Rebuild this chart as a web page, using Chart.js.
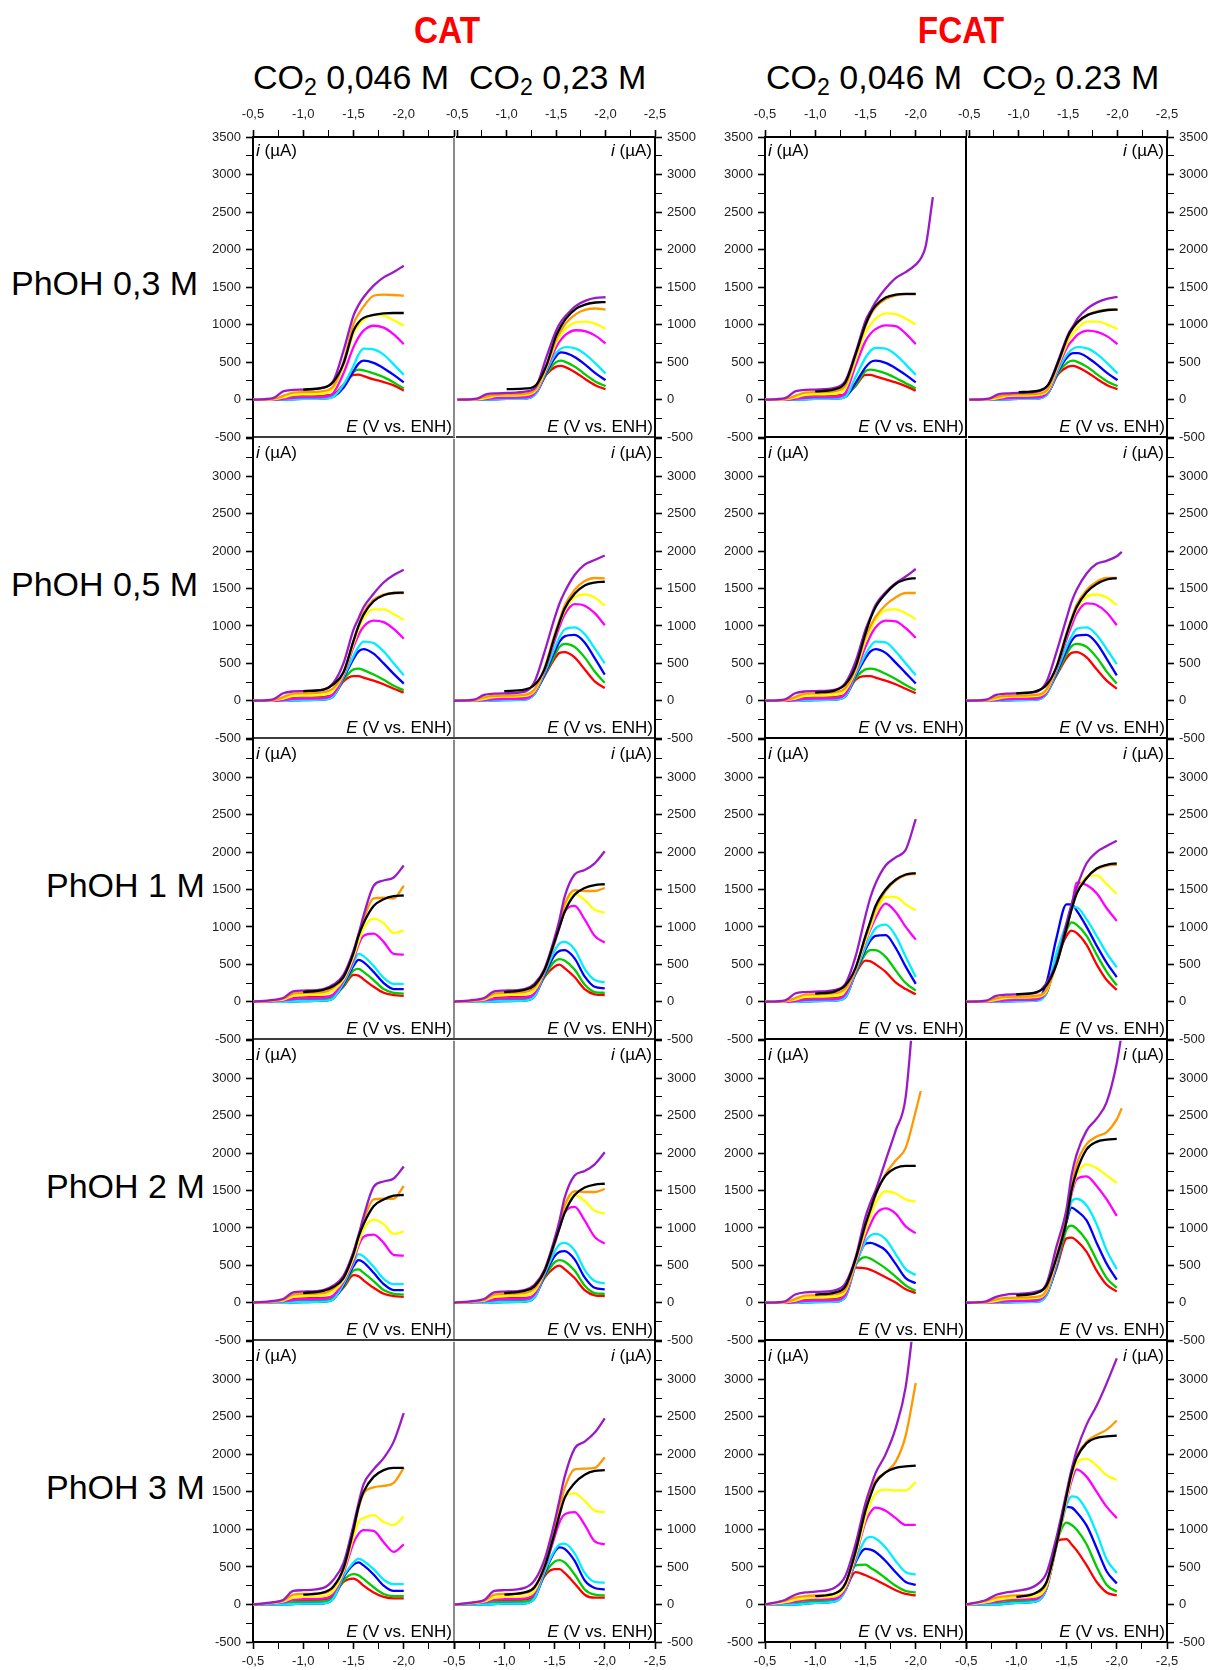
<!DOCTYPE html>
<html>
<head>
<meta charset="utf-8">
<script src="https://cdn.jsdelivr.net/npm/chart.js@4.4.1/dist/chart.umd.min.js"></script>
<style>
  body { margin: 0; background: #fff; width: 1212px; height: 1670px; position: relative; overflow: hidden;
         font-family: 'Liberation Sans', Arial, sans-serif; }
  .lbl { position: absolute; white-space: nowrap; color: #000; }
  .lbl sub { font-size: 0.68em; vertical-align: -0.28em; line-height: 0; }
  canvas { position: absolute; }
</style>
</head>
<body>
<div class="lbl" style="left:447px;top:12px;font-size:37px;line-height:37px;font-weight:bold;color:#ff0000;transform:translateX(-50%) scaleX(0.9)">CAT</div>
<div class="lbl" style="left:961px;top:12px;font-size:37px;line-height:37px;font-weight:bold;color:#ff0000;transform:translateX(-50%) scaleX(0.9)">FCAT</div>
<div class="lbl" style="left:253px;top:60px;font-size:34px;line-height:34px">CO<sub>2</sub> 0,046 M</div>
<div class="lbl" style="left:469px;top:60px;font-size:34px;line-height:34px">CO<sub>2</sub> 0,23 M</div>
<div class="lbl" style="left:766px;top:60px;font-size:34px;line-height:34px">CO<sub>2</sub> 0,046 M</div>
<div class="lbl" style="left:982px;top:60px;font-size:34px;line-height:34px">CO<sub>2</sub> 0.23 M</div>
<div id="rows"></div>

<script>
// potential grid (V vs. ENH); every curve below is read at these points
const E = [-0.5, -0.7, -0.8, -0.9, -1.0, -1.2, -1.3, -1.4, -1.5, -1.55, -1.6, -1.7, -1.8, -1.9, -2.0, -2.05, -2.1, -2.17];

// curve order in each panel: red, green, blue, cyan, magenta, yellow, orange, purple, black
const curveColors = ['#ff0000', '#00cc00', '#0000ff', '#00eeff', '#ff00ff', '#ffff00', '#ff9900', '#9b1ac8', '#000000'];

const rowLabels = ['PhOH 0,3 M', 'PhOH 0,5 M', 'PhOH 1 M', 'PhOH 2 M', 'PhOH 3 M'];
const rowLabelLeft = [11, 11, 46, 46, 46];

// ---- PhOH 0,3 M ----
const cat046_03 = [
  [0, 5, 20, 45, 50, 55, 70, 200, 330, 335, 315, 270, 235, 190, 120],
  [0, 0, 10, 30, 35, 40, 55, 180, 370, 400, 390, 350, 300, 230, 150],
  [0, 0, 0, 5, 10, 15, 40, 160, 380, 480, 520, 490, 420, 330, 230],
  [0, 0, 0, 5, 10, 15, 40, 200, 450, 600, 680, 670, 600, 470, 330],
  [0, 0, 10, 25, 30, 35, 90, 350, 700, 830, 920, 985, 960, 870, 740],
  [0, 5, 30, 65, 70, 80, 150, 450, 880, 990, 1060, 1130, 1120, 1060, 985],
  [0, 10, 50, 95, 100, 115, 180, 500, 1010, 1140, 1240, 1385, 1400, 1395, 1385],
  [0, 20, 110, 130, 135, 160, 250, 650, 1120, 1260, 1365, 1520, 1630, 1700, 1785],
  [null, null, null, null, 135, 160, 240, 480, 920, 1030, 1090, 1130, 1150, 1155, 1155]
];
const cat023_03 = [
  [0, 5, 15, 35, 40, 45, 100, 330, 440, 450, 430, 360, 270, 190, 140],
  [0, 0, 10, 25, 30, 35, 100, 340, 500, 520, 500, 430, 330, 240, 180],
  [0, 0, 0, 5, 10, 15, 90, 360, 580, 630, 620, 560, 460, 350, 260],
  [0, 0, 0, 5, 10, 15, 90, 380, 620, 680, 700, 680, 600, 480, 350],
  [0, 0, 10, 20, 25, 30, 110, 400, 700, 800, 870, 925, 910, 850, 750],
  [0, 5, 25, 50, 55, 65, 130, 420, 760, 870, 950, 1030, 1040, 1010, 945],
  [0, 10, 45, 65, 70, 80, 150, 440, 800, 920, 1020, 1140, 1200, 1215, 1200],
  [0, 15, 75, 85, 90, 110, 180, 560, 920, 1040, 1120, 1250, 1320, 1355, 1365],
  [null, null, null, null, 140, 150, 200, 450, 850, 980, 1080, 1210, 1270, 1295, 1300]
];
const fcat046_03 = [
  [0, 5, 20, 45, 50, 55, 70, 180, 330, 330, 310, 270, 230, 180, 120],
  [0, 0, 10, 30, 35, 40, 55, 190, 380, 400, 390, 350, 290, 220, 150],
  [0, 0, 0, 5, 10, 15, 40, 220, 430, 500, 520, 490, 420, 330, 230],
  [0, 0, 0, 5, 10, 15, 40, 300, 560, 650, 690, 680, 600, 470, 330],
  [0, 0, 10, 25, 30, 35, 90, 450, 780, 880, 940, 990, 980, 880, 740],
  [0, 5, 30, 65, 70, 80, 150, 520, 900, 1000, 1080, 1150, 1140, 1080, 1000],
  [0, 10, 50, 95, 100, 115, 190, 580, 980, 1130, 1230, 1340, 1390, 1405, 1405],
  [0, 20, 110, 130, 135, 160, 250, 620, 1050, 1180, 1300, 1480, 1620, 1700, 1800, 1880, 2050, 2700],
  [null, null, null, null, 110, 140, 230, 600, 1000, 1150, 1250, 1360, 1400, 1410, 1410]
];
const fcat023_03 = [
  [0, 5, 15, 35, 40, 45, 100, 340, 440, 450, 430, 360, 270, 190, 140],
  [0, 0, 10, 25, 30, 35, 100, 360, 500, 520, 500, 430, 330, 240, 180],
  [0, 0, 0, 5, 10, 15, 90, 380, 580, 620, 620, 560, 460, 350, 260],
  [0, 0, 0, 5, 10, 15, 90, 400, 620, 680, 700, 680, 600, 480, 350],
  [0, 0, 10, 20, 25, 30, 110, 440, 720, 800, 870, 920, 900, 840, 740],
  [0, 5, 25, 50, 55, 65, 130, 460, 780, 880, 960, 1040, 1040, 1000, 940],
  [0, 10, 45, 65, 70, 80, 150, 480, 830, 950, 1030, 1130, 1180, 1200, 1200],
  [0, 15, 75, 85, 90, 110, 200, 520, 870, 980, 1090, 1220, 1300, 1345, 1370],
  [null, null, null, null, 100, 120, 200, 500, 850, 960, 1040, 1130, 1170, 1195, 1200]
];

// ---- PhOH 0,5 M ----
const cat046_05 = [
  [0, 5, 20, 45, 50, 55, 80, 260, 330, 330, 310, 270, 220, 160, 110],
  [0, 0, 10, 30, 35, 40, 70, 280, 420, 430, 410, 350, 280, 200, 140],
  [0, 0, 0, 5, 10, 15, 60, 300, 560, 660, 690, 630, 500, 360, 230],
  [0, 0, 0, 5, 10, 15, 60, 320, 600, 720, 790, 770, 660, 500, 340],
  [0, 0, 10, 25, 30, 35, 90, 340, 720, 880, 990, 1070, 1050, 960, 830],
  [0, 5, 30, 65, 70, 80, 140, 360, 760, 950, 1100, 1220, 1220, 1160, 1080],
  [0, 10, 50, 95, 100, 115, 170, 380, 800, 1000, 1180, 1350, 1420, 1440, 1440],
  [0, 20, 100, 125, 130, 150, 240, 500, 950, 1100, 1250, 1430, 1580, 1680, 1750],
  [null, null, null, null, 130, 150, 220, 380, 800, 1000, 1150, 1330, 1410, 1440, 1445]
];
const cat023_05 = [
  [0, 5, 15, 35, 40, 45, 110, 330, 560, 640, 650, 580, 420, 260, 170],
  [0, 0, 10, 25, 30, 35, 100, 340, 600, 720, 760, 720, 580, 390, 240],
  [0, 0, 0, 5, 10, 15, 90, 350, 650, 790, 860, 880, 780, 570, 350],
  [0, 0, 0, 5, 10, 15, 90, 370, 700, 850, 950, 980, 890, 700, 500],
  [0, 0, 10, 20, 25, 30, 110, 400, 800, 990, 1150, 1290, 1270, 1170, 1010],
  [0, 5, 25, 50, 55, 65, 130, 420, 850, 1040, 1200, 1380, 1420, 1380, 1270],
  [0, 10, 45, 65, 70, 80, 150, 440, 880, 1080, 1270, 1480, 1600, 1640, 1635],
  [0, 15, 80, 95, 100, 120, 250, 650, 1100, 1300, 1450, 1680, 1820, 1880, 1940],
  [null, null, null, null, 130, 150, 210, 420, 850, 1050, 1230, 1430, 1540, 1580, 1590]
];
const fcat046_05 = [
  [0, 5, 20, 45, 50, 55, 80, 280, 330, 330, 310, 270, 220, 160, 100],
  [0, 0, 10, 30, 35, 40, 70, 300, 420, 430, 420, 360, 290, 210, 140],
  [0, 0, 0, 5, 10, 15, 60, 330, 570, 660, 690, 640, 510, 370, 230],
  [0, 0, 0, 5, 10, 15, 60, 350, 620, 730, 790, 780, 660, 500, 340],
  [0, 0, 10, 25, 30, 35, 90, 380, 720, 870, 980, 1070, 1060, 970, 840],
  [0, 5, 30, 65, 70, 80, 140, 400, 800, 950, 1080, 1210, 1220, 1170, 1090],
  [0, 10, 50, 95, 100, 115, 170, 430, 860, 1000, 1120, 1280, 1380, 1440, 1440],
  [0, 20, 100, 125, 130, 150, 240, 520, 950, 1120, 1280, 1450, 1570, 1660, 1760],
  [null, null, null, null, 110, 140, 220, 450, 900, 1100, 1250, 1430, 1560, 1620, 1640]
];
const fcat023_05 = [
  [0, 5, 15, 35, 40, 45, 110, 340, 570, 640, 650, 580, 420, 270, 160],
  [0, 0, 10, 25, 30, 35, 100, 350, 620, 730, 760, 720, 580, 390, 230],
  [0, 0, 0, 5, 10, 15, 90, 370, 670, 800, 870, 880, 770, 560, 340],
  [0, 0, 0, 5, 10, 15, 90, 390, 720, 860, 960, 980, 880, 690, 490],
  [0, 0, 10, 20, 25, 30, 110, 420, 820, 1000, 1160, 1300, 1280, 1180, 1010],
  [0, 5, 25, 50, 55, 65, 130, 440, 870, 1060, 1220, 1390, 1420, 1380, 1280],
  [0, 10, 45, 65, 70, 80, 150, 460, 900, 1100, 1280, 1480, 1590, 1640, 1640],
  [0, 15, 80, 95, 100, 120, 250, 650, 1100, 1320, 1480, 1700, 1830, 1870, 1930, 1990],
  [null, null, null, null, 100, 130, 210, 450, 880, 1080, 1250, 1450, 1560, 1620, 1640]
];

// ---- PhOH 1 M ----
const cat046_1 = [
  [0, 10, 20, 50, 60, 65, 90, 200, 360, 350, 300, 200, 120, 90, 80],
  [0, 5, 10, 30, 30, 35, 70, 210, 420, 440, 400, 290, 170, 120, 110],
  [0, 0, 0, 5, 10, 15, 50, 230, 480, 560, 530, 400, 250, 170, 170],
  [0, 0, 0, 5, 10, 15, 50, 250, 520, 640, 610, 480, 320, 240, 240],
  [0, 10, 20, 40, 50, 55, 100, 280, 560, 760, 880, 910, 800, 640, 630],
  [0, 15, 30, 80, 90, 100, 150, 300, 600, 800, 980, 1110, 1050, 920, 950],
  [0, 15, 40, 110, 120, 130, 190, 330, 680, 900, 1100, 1380, 1390, 1380, 1550],
  [0, 25, 50, 140, 150, 170, 230, 360, 680, 900, 1150, 1550, 1620, 1660, 1820],
  [null, null, null, null, 130, 160, 210, 330, 650, 880, 1050, 1280, 1370, 1410, 1420]
];
const cat023_1 = [
  [0, 10, 20, 50, 60, 65, 100, 330, 470, 495, 450, 330, 170, 100, 90],
  [0, 5, 10, 30, 30, 35, 90, 340, 540, 570, 550, 430, 230, 130, 120],
  [0, 0, 0, 5, 10, 15, 70, 360, 620, 680, 690, 580, 340, 200, 180],
  [0, 0, 0, 5, 10, 15, 70, 380, 680, 780, 800, 700, 440, 290, 260],
  [0, 10, 20, 40, 50, 55, 110, 400, 780, 1000, 1200, 1280, 1100, 880, 790],
  [0, 15, 30, 80, 90, 100, 150, 410, 800, 1020, 1250, 1440, 1360, 1230, 1190],
  [0, 15, 40, 110, 120, 130, 190, 420, 820, 1060, 1300, 1490, 1480, 1480, 1520],
  [0, 25, 50, 140, 150, 170, 240, 440, 850, 1100, 1400, 1700, 1760, 1850, 2010],
  [null, null, null, null, 130, 160, 220, 420, 800, 1000, 1200, 1430, 1520, 1560, 1570]
];
const fcat046_1 = [
  [0, 5, 20, 45, 50, 55, 90, 370, 550, 540, 500, 400, 260, 170, 100],
  [0, 0, 10, 30, 35, 40, 80, 380, 640, 690, 690, 600, 420, 250, 150],
  [0, 0, 0, 5, 10, 15, 60, 390, 700, 820, 880, 890, 720, 470, 240],
  [0, 0, 0, 5, 10, 15, 60, 400, 730, 870, 980, 1030, 880, 600, 330],
  [0, 0, 10, 25, 30, 35, 100, 420, 800, 970, 1120, 1310, 1200, 1000, 830],
  [0, 5, 30, 65, 70, 80, 150, 430, 820, 1000, 1180, 1400, 1400, 1300, 1220],
  [0, 10, 50, 95, 100, 115, 180, 440, 860, 1060, 1250, 1480, 1620, 1690, 1710],
  [0, 20, 110, 130, 135, 160, 240, 600, 1150, 1400, 1580, 1820, 1930, 2030, 2440],
  [null, null, null, null, 110, 140, 220, 450, 880, 1080, 1280, 1500, 1630, 1700, 1720]
];
const fcat023_1 = [
  [0, 5, 15, 35, 40, 45, 120, 560, 880, 950, 920, 760, 500, 290, 160],
  [0, 0, 10, 25, 30, 35, 110, 580, 950, 1060, 1030, 880, 630, 400, 220],
  [0, 0, 0, 5, 10, 15, 250, 850, 1300, 1300, 1220, 1000, 750, 520, 330],
  [0, 0, 0, 5, 10, 15, 120, 650, 1050, 1260, 1260, 1100, 880, 650, 460],
  [0, 0, 10, 20, 25, 30, 130, 520, 980, 1250, 1590, 1560, 1450, 1250, 1080],
  [0, 5, 25, 50, 55, 65, 140, 510, 990, 1250, 1450, 1670, 1690, 1570, 1440],
  [0, 10, 45, 65, 70, 80, 160, 500, 1000, 1250, 1460, 1660, 1770, 1820, 1830],
  [0, 15, 80, 95, 100, 120, 250, 520, 1050, 1300, 1520, 1850, 2000, 2080, 2150],
  [null, null, null, null, 100, 130, 220, 500, 980, 1230, 1440, 1650, 1780, 1830, 1850]
];

// ---- PhOH 2 M ----
const cat046_2 = [
  [0, 10, 20, 50, 60, 65, 90, 200, 370, 355, 300, 200, 120, 90, 80],
  [0, 5, 10, 30, 30, 35, 70, 210, 430, 445, 400, 290, 170, 120, 110],
  [0, 0, 0, 5, 10, 15, 50, 230, 490, 570, 540, 400, 250, 170, 170],
  [0, 0, 0, 5, 10, 15, 50, 250, 530, 650, 620, 480, 320, 250, 250],
  [0, 10, 20, 40, 50, 55, 100, 280, 560, 760, 880, 910, 800, 640, 630],
  [0, 15, 30, 80, 90, 100, 150, 300, 600, 800, 980, 1110, 1050, 920, 950],
  [0, 15, 40, 110, 120, 130, 190, 330, 680, 900, 1100, 1380, 1390, 1390, 1560],
  [0, 25, 50, 140, 150, 170, 230, 360, 680, 900, 1150, 1550, 1620, 1660, 1820],
  [null, null, null, null, 130, 160, 210, 330, 650, 880, 1050, 1290, 1380, 1430, 1440]
];
const cat023_2 = [
  [0, 10, 20, 50, 60, 65, 100, 330, 470, 495, 450, 330, 170, 100, 90],
  [0, 5, 10, 30, 30, 35, 90, 340, 540, 570, 550, 430, 230, 130, 120],
  [0, 0, 0, 5, 10, 15, 70, 360, 620, 680, 690, 580, 340, 200, 180],
  [0, 0, 0, 5, 10, 15, 70, 380, 680, 780, 800, 700, 440, 290, 260],
  [0, 10, 20, 40, 50, 55, 110, 400, 780, 1000, 1200, 1280, 1100, 880, 790],
  [0, 15, 30, 80, 90, 100, 150, 410, 800, 1020, 1250, 1440, 1360, 1230, 1190],
  [0, 15, 40, 110, 120, 130, 190, 420, 820, 1060, 1300, 1490, 1480, 1480, 1520],
  [0, 25, 50, 140, 150, 170, 240, 440, 850, 1100, 1400, 1700, 1760, 1850, 2010],
  [null, null, null, null, 130, 160, 220, 420, 800, 1000, 1200, 1440, 1540, 1580, 1590]
];
const fcat046_2 = [
  [0, 5, 20, 45, 50, 55, 130, 470, 460, 440, 410, 340, 270, 180, 130],
  [0, 0, 10, 30, 35, 40, 110, 500, 610, 590, 550, 460, 350, 230, 160],
  [0, 0, 0, 5, 10, 15, 80, 500, 790, 800, 780, 700, 520, 330, 260],
  [0, 0, 0, 5, 10, 15, 80, 500, 820, 900, 920, 850, 650, 450, 370],
  [0, 0, 10, 25, 30, 35, 110, 520, 900, 1050, 1180, 1260, 1190, 1020, 930],
  [0, 5, 30, 65, 70, 80, 150, 540, 960, 1150, 1330, 1490, 1460, 1380, 1350],
  [0, 10, 50, 95, 100, 115, 180, 560, 1030, 1230, 1430, 1720, 1900, 2070, 2560, 2830],
  [0, 20, 110, 140, 145, 170, 260, 600, 1150, 1340, 1500, 1900, 2300, 2750, 4300],
  [null, null, null, null, 110, 140, 220, 580, 1050, 1250, 1450, 1700, 1800, 1830, 1830]
];
const fcat023_2 = [
  [0, 5, 15, 35, 40, 45, 130, 460, 860, 870, 830, 680, 430, 240, 150],
  [0, 0, 10, 25, 30, 35, 120, 480, 980, 1030, 990, 830, 570, 330, 200],
  [0, 0, 0, 5, 10, 15, 100, 500, 1080, 1270, 1230, 1100, 800, 520, 310],
  [0, 0, 0, 5, 10, 15, 100, 520, 1100, 1350, 1390, 1300, 1050, 700, 450],
  [0, 0, 10, 20, 25, 30, 130, 550, 1120, 1450, 1650, 1690, 1560, 1380, 1160],
  [0, 5, 25, 50, 55, 65, 150, 580, 1130, 1480, 1700, 1850, 1800, 1700, 1600],
  [0, 10, 45, 65, 70, 80, 170, 620, 1150, 1550, 1850, 2120, 2220, 2280, 2450, 2600],
  [0, 20, 80, 110, 120, 150, 250, 750, 1250, 1700, 1980, 2300, 2460, 2680, 3200, 3600],
  [null, null, null, null, 100, 130, 230, 600, 1100, 1500, 1750, 2050, 2150, 2180, 2190]
];

// ---- PhOH 3 M ----
const cat046_3 = [
  [0, 15, 30, 60, 60, 65, 120, 300, 345, 310, 250, 160, 100, 80, 80],
  [0, 5, 10, 30, 35, 40, 100, 320, 405, 390, 340, 230, 140, 110, 110],
  [0, 0, 0, 5, 10, 15, 80, 360, 530, 560, 520, 400, 250, 180, 180],
  [0, 0, 0, 5, 10, 15, 80, 380, 560, 610, 580, 470, 330, 270, 270],
  [0, 15, 30, 60, 70, 80, 150, 420, 820, 940, 990, 980, 830, 700, 800],
  [0, 20, 40, 90, 100, 110, 180, 440, 900, 1100, 1150, 1190, 1100, 1060, 1170],
  [0, 25, 50, 130, 140, 150, 230, 470, 980, 1280, 1480, 1560, 1580, 1620, 1820],
  [0, 30, 60, 180, 190, 220, 330, 550, 1060, 1350, 1600, 1800, 1950, 2170, 2550],
  [null, null, null, null, 130, 160, 240, 480, 1000, 1300, 1500, 1700, 1790, 1820, 1820]
];
const cat023_3 = [
  [0, 15, 30, 60, 60, 65, 120, 380, 470, 470, 420, 280, 130, 90, 90],
  [0, 5, 10, 30, 35, 40, 100, 400, 570, 590, 560, 400, 200, 130, 120],
  [0, 0, 0, 5, 10, 15, 80, 420, 700, 760, 740, 580, 320, 220, 200],
  [0, 0, 0, 5, 10, 15, 80, 440, 720, 800, 810, 680, 420, 300, 290],
  [0, 15, 30, 60, 70, 80, 150, 480, 900, 1100, 1200, 1230, 1060, 840, 800],
  [0, 20, 40, 90, 100, 110, 180, 500, 960, 1250, 1450, 1480, 1380, 1250, 1230],
  [0, 25, 50, 130, 140, 150, 230, 520, 1000, 1300, 1550, 1800, 1810, 1820, 1960],
  [0, 30, 60, 180, 190, 220, 320, 600, 1100, 1400, 1700, 2080, 2170, 2290, 2480],
  [null, null, null, null, 130, 160, 230, 500, 950, 1200, 1420, 1620, 1730, 1780, 1790]
];
const fcat046_3 = [
  [0, 15, 30, 60, 60, 70, 200, 430, 390, 360, 330, 260, 190, 140, 120],
  [0, 5, 10, 30, 40, 50, 200, 520, 530, 490, 450, 350, 250, 180, 160],
  [0, 0, 0, 10, 20, 40, 190, 560, 740, 730, 700, 580, 430, 300, 260],
  [0, 0, 0, 10, 20, 40, 190, 580, 870, 900, 880, 760, 580, 430, 400],
  [0, 20, 40, 60, 70, 80, 210, 620, 1100, 1230, 1290, 1250, 1150, 1060, 1060],
  [0, 30, 60, 80, 90, 110, 240, 650, 1150, 1350, 1480, 1530, 1520, 1520, 1630],
  [0, 50, 90, 110, 120, 150, 280, 700, 1280, 1480, 1650, 1760, 1900, 2250, 2950],
  [0, 60, 130, 160, 170, 230, 380, 800, 1350, 1560, 1750, 2000, 2350, 2900, 4000],
  [null, null, null, null, 110, 150, 280, 700, 1250, 1450, 1620, 1760, 1820, 1840, 1850]
];
const fcat023_3 = [
  [0, 15, 30, 60, 60, 70, 220, 840, 870, 800, 720, 520, 300, 160, 120],
  [0, 5, 10, 30, 40, 50, 220, 820, 1090, 1060, 1000, 800, 500, 260, 170],
  [0, 0, 0, 10, 20, 40, 210, 800, 1300, 1290, 1230, 1050, 750, 440, 280],
  [0, 0, 0, 10, 20, 40, 210, 790, 1320, 1440, 1430, 1250, 950, 600, 420],
  [0, 20, 40, 60, 70, 80, 230, 790, 1380, 1650, 1800, 1700, 1500, 1300, 1150],
  [0, 30, 60, 80, 90, 110, 250, 790, 1400, 1700, 1880, 1940, 1850, 1720, 1660],
  [0, 50, 90, 110, 120, 150, 290, 820, 1480, 1780, 1980, 2170, 2260, 2330, 2450],
  [0, 60, 130, 160, 180, 260, 420, 900, 1500, 1800, 2050, 2400, 2650, 2950, 3280],
  [null, null, null, null, 100, 160, 300, 800, 1450, 1750, 1950, 2150, 2220, 2240, 2250]
];

const panelGrid = [
  [cat046_03, cat023_03, fcat046_03, fcat023_03],
  [cat046_05, cat023_05, fcat046_05, fcat023_05],
  [cat046_1, cat023_1, fcat046_1, fcat023_1],
  [cat046_2, cat023_2, fcat046_2, fcat023_2],
  [cat046_3, cat023_3, fcat046_3, fcat023_3]
];

// page layout of the panel grid (px)
const colLeft = [253, 454, 765, 966];
const rowTop = [137, 438, 739, 1040, 1341];
const PW = 201, PH = 301, YW = 58, SIDE = 16;
const FONT = "'Liberation Sans', Arial, sans-serif";

Chart.defaults.font.family = FONT;

// panel captions and the divider between the two columns of a block
const panelText = {
  id: 'panelText',
  afterDraw(chart, args, opts) {
    const ctx = chart.ctx;
    const a = chart.chartArea;
    ctx.save();
    if (opts.divider) {
      ctx.strokeStyle = opts.divider;
      ctx.lineWidth = 2;
      ctx.beginPath();
      ctx.moveTo(a.right, a.top);
      ctx.lineTo(a.right, a.bottom);
      ctx.stroke();
    }
    ctx.fillStyle = '#000';
    ctx.textBaseline = 'alphabetic';
    ctx.textAlign = 'left';

    ctx.font = 'italic 17px ' + FONT;
    const wi = ctx.measureText('i').width;
    ctx.font = '17px ' + FONT;
    const wr = ctx.measureText(' (µA)').width;
    const xi = opts.left ? a.left + 3 : a.right - 3 - wi - wr;
    ctx.font = 'italic 17px ' + FONT;
    ctx.fillText('i', xi, a.top + 19);
    ctx.font = '17px ' + FONT;
    ctx.fillText(' (µA)', xi + wi, a.top + 19);

    ctx.font = 'italic 17px ' + FONT;
    const we = ctx.measureText('E').width;
    ctx.font = '17px ' + FONT;
    const wv = ctx.measureText(' (V vs. ENH)').width;
    const xe = a.right - 2 - we - wv;
    ctx.font = 'italic 17px ' + FONT;
    ctx.fillText('E', xe, a.bottom - 5);
    ctx.font = '17px ' + FONT;
    ctx.fillText(' (V vs. ENH)', xe + we, a.bottom - 5);
    ctx.restore();
  }
};

function makePanel(curves, r, c) {
  const isLeft = c % 2 === 0;
  const isFcat = c >= 2;
  const topM = r === 0 ? 30 : 12;
  const botM = r === 4 ? 30 : 12;

  const canvas = document.createElement('canvas');
  canvas.width = YW + PW + SIDE;
  canvas.height = topM + PH + botM;
  canvas.style.left = (isLeft ? colLeft[c] - YW : colLeft[c] - SIDE) + 'px';
  canvas.style.top = (rowTop[r] - topM) + 'px';
  document.body.appendChild(canvas);

  const sepColor = isFcat ? '#000' : '#3c3c3c';
  const xLabel = (v) => {
    const k = Math.round(v * 100) / 100;
    if (Math.abs(k * 2 - Math.round(k * 2)) > 1e-6) return '';
    if (isLeft && k === -2.5) return '';
    return k.toFixed(1).replace('.', ',');
  };
  const xTicks = (pad) => ({
    stepSize: 0.25, autoSkip: false, maxRotation: 0, minRotation: 0,
    font: { size: 13 }, color: '#222', padding: pad, callback: xLabel
  });
  const tickW = (ctx) => (ctx.tick && Math.abs(ctx.tick.value * 2 - Math.round(ctx.tick.value * 2)) < 1e-6) ? 1.6 : 1;

  const scales = {
    x: {
      type: 'linear', min: -2.5, max: -0.5, reverse: true, position: 'bottom',
      border: { display: true, color: r === 4 ? '#000' : sepColor, width: 2 },
      grid: { drawOnChartArea: false, drawTicks: r === 4, tickLength: 7, tickColor: '#000', tickWidth: tickW },
      ticks: r === 4 ? xTicks(5) : { display: false, stepSize: 0.25 },
      afterFit: (s) => { s.height = r === 4 ? 30 : 0; }
    },
    y: {
      type: 'linear', min: -500, max: 3500, position: isLeft ? 'left' : 'right',
      border: { display: true, color: '#000', width: 2 },
      grid: { drawOnChartArea: false, drawTicks: true, tickLength: 7, tickColor: '#000',
              tickWidth: (ctx) => (ctx.tick && ctx.tick.value % 500 === 0) ? 1.6 : 1 },
      ticks: {
        stepSize: 250, autoSkip: false, font: { size: 13 }, color: '#222', padding: 5,
        callback: (v) => (v % 500 !== 0 || (r > 0 && v === 3500)) ? '' : String(v)
      },
      afterFit: (s) => { s.width = YW; }
    }
  };
  if (r === 0) {
    scales.xt = {
      type: 'linear', min: -2.5, max: -0.5, reverse: true, position: 'top',
      border: { display: true, color: '#000', width: 2 },
      grid: { drawOnChartArea: false, drawTicks: true, tickLength: 7, tickColor: '#000', tickWidth: tickW },
      ticks: xTicks(8),
      afterFit: (s) => { s.height = 30; }
    };
  }

  // black drawn last (on top), red first
  const datasets = curves.map((vals, k) => ({
    data: vals.map((v, i) => (v === null ? null : { x: E[i], y: v })).filter((p) => p),
    borderColor: curveColors[k],
    borderWidth: 2.3,
    pointRadius: 0,
    cubicInterpolationMode: 'monotone',
    fill: false
  })).reverse();

  new Chart(canvas, {
    type: 'line',
    data: { datasets },
    options: {
      responsive: false,
      animation: false,
      devicePixelRatio: 1,
      events: [],
      layout: { padding: { top: r === 0 ? 0 : 12, bottom: r === 4 ? 0 : 12,
                           left: isLeft ? 0 : SIDE, right: isLeft ? SIDE : 0 } },
      plugins: {
        legend: { display: false },
        tooltip: { enabled: false },
        panelText: { left: isLeft, divider: isLeft ? (isFcat ? '#000' : '#8a8a8a') : null }
      },
      scales
    },
    plugins: [panelText]
  });
}

const rowsDiv = document.getElementById('rows');
rowLabels.forEach((txt, r) => {
  const d = document.createElement('div');
  d.className = 'lbl';
  d.style.left = rowLabelLeft[r] + 'px';
  d.style.top = (283 + r * 301 - 17) + 'px';
  d.style.fontSize = '34px';
  d.style.lineHeight = '34px';
  d.textContent = txt;
  rowsDiv.appendChild(d);
});

panelGrid.forEach((row, r) => row.forEach((curves, c) => makePanel(curves, r, c)));
</script>
</body>
</html>
